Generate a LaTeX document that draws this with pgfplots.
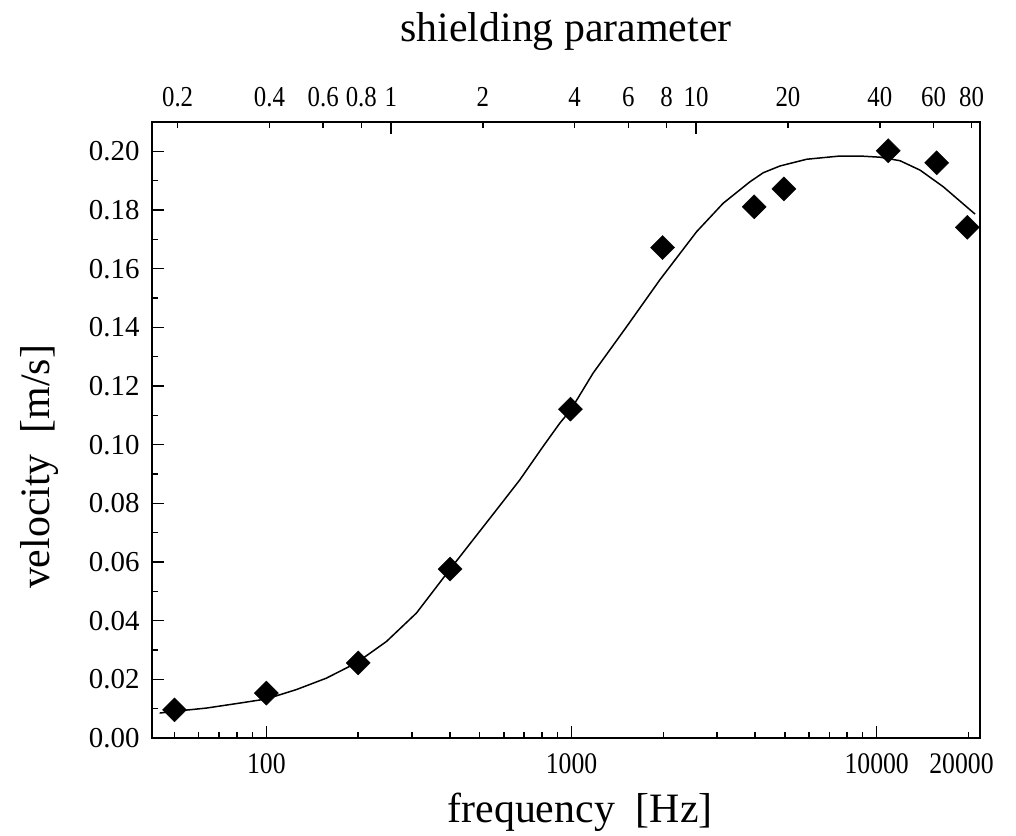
\documentclass[border=0pt]{standalone}
\usepackage{pgfplots}
\pgfplotsset{compat=1.18}
\usepackage{fontspec}
\setmainfont{Liberation Serif}
\newfontfamily\condensed[FakeStretch=0.86]{Liberation Serif}
\begin{document}
\begin{tikzpicture}
\begin{axis}[
  name=main,
  scale only axis, width=828bp, height=616bp,
  xmode=log, xmin=42.2, xmax=21810,
  ymin=0, ymax=0.21,
  axis line style={line width=2bp},
  every tick/.style={line width=1.5bp, black},
  tick align=inside,
  xtick pos=left, ytick pos=left,
  xtick={100,1000,10000}, xticklabels={100,1000,10000},
  minor xtick={50,60,70,80,90,200,300,400,500,600,700,800,900,2000,3000,4000,5000,6000,7000,8000,9000},
  extra x ticks={20000}, extra x tick labels={20000},
  extra x tick style={major tick length=6bp, xticklabel style={xshift=-7bp}},
  major tick length=12bp, minor tick length=6bp,
  ytick={0,0.02,0.04,0.06,0.08,0.10,0.12,0.14,0.16,0.18,0.20},
  minor ytick={0.01,0.03,0.05,0.07,0.09,0.11,0.13,0.15,0.17,0.19},
  yticklabel style={xshift=-9bp, /pgf/number format/.cd, fixed, fixed zerofill, precision=2},
  /pgf/number format/assume math mode=true,
  tick label style={font=\fontsize{29}{29}\selectfont},
  xticklabel style={yshift=-12bp, font=\condensed\fontsize{30}{30}\selectfont},
  label style={font=\fontsize{42}{42}\selectfont},
  xlabel={frequency\ \ [Hz]},
  ylabel={velocity\ \ [m/s]},
  xlabel style={at={(axis description cs:0.517,-0.1364)}, anchor=base},
  ylabel style={at={(axis description cs:-0.1353,0.44)}, anchor=center},
  clip=false,
]
\addplot[black, line width=1.5bp] coordinates {
(44.7,0.0085) (50,0.0091) (63.6,0.0102) (81.8,0.0119) (100,0.0133)
(125.4,0.0165) (157.3,0.0204) (197.3,0.0256) (247.5,0.0329) (310.4,0.0426)
(399,0.0574) (476,0.0676) (568,0.0778) (677,0.0880) (807,0.0994)
(915,0.1073) (995,0.1119) (1177,0.1244) (1515,0.1402) (1948,0.1562)
(2570,0.1726) (3141,0.1823) (3842,0.1896) (4249,0.1927) (4819,0.1950)
(5896,0.1973) (7580,0.1984) (8816,0.1984) (10250,0.1980) (11925,0.1968)
(13870,0.1936) (16540,0.1879) (21010,0.1786)
};
\addplot[only marks, mark=square*, mark size=8.5bp, mark options={rotate=45, fill=black, draw=black}] coordinates {
(50,0.0096) (100,0.0153) (200,0.0256) (400,0.0576) (992,0.1121)
(1988,0.1672) (3970,0.1811) (4966,0.1872) (10910,0.2002) (15730,0.1961) (19820,0.1741)
};
\end{axis}
\begin{axis}[
  scale only axis, width=828bp, height=616bp,
  at={(main.south west)}, anchor=south west,
  xmode=log, xmin=0.16484, xmax=85.2,
  ymin=0, ymax=1,
  axis x line*=top, axis y line=none,
  axis line style={line width=2bp},
  every tick/.style={line width=1.5bp, black},
  tick align=inside,
  xtick={0.2,0.4,0.6,0.8,2,4,6,8,20,40,60,80},
  xticklabels={0.2,0.4,0.6,0.8,2,4,6,8,20,40,60,80},
  extra x ticks={1,10}, extra x tick labels={1,10},
  extra x tick style={major tick length=12bp},
  major tick length=6bp,
  /pgf/number format/assume math mode=true,
  tick label style={font=\condensed\fontsize{29}{29}\selectfont},
  xticklabel style={yshift=12bp},
  label style={font=\fontsize{42}{42}\selectfont},
  xlabel={shielding parameter},
  xlabel style={at={(axis description cs:0.5,1.1299)}, anchor=base},
]
\end{axis}
\pgfresetboundingbox
\path (main.south west) ++(-152bp,-98bp) rectangle ++(1016bp,836bp);
\end{tikzpicture}
\end{document}
